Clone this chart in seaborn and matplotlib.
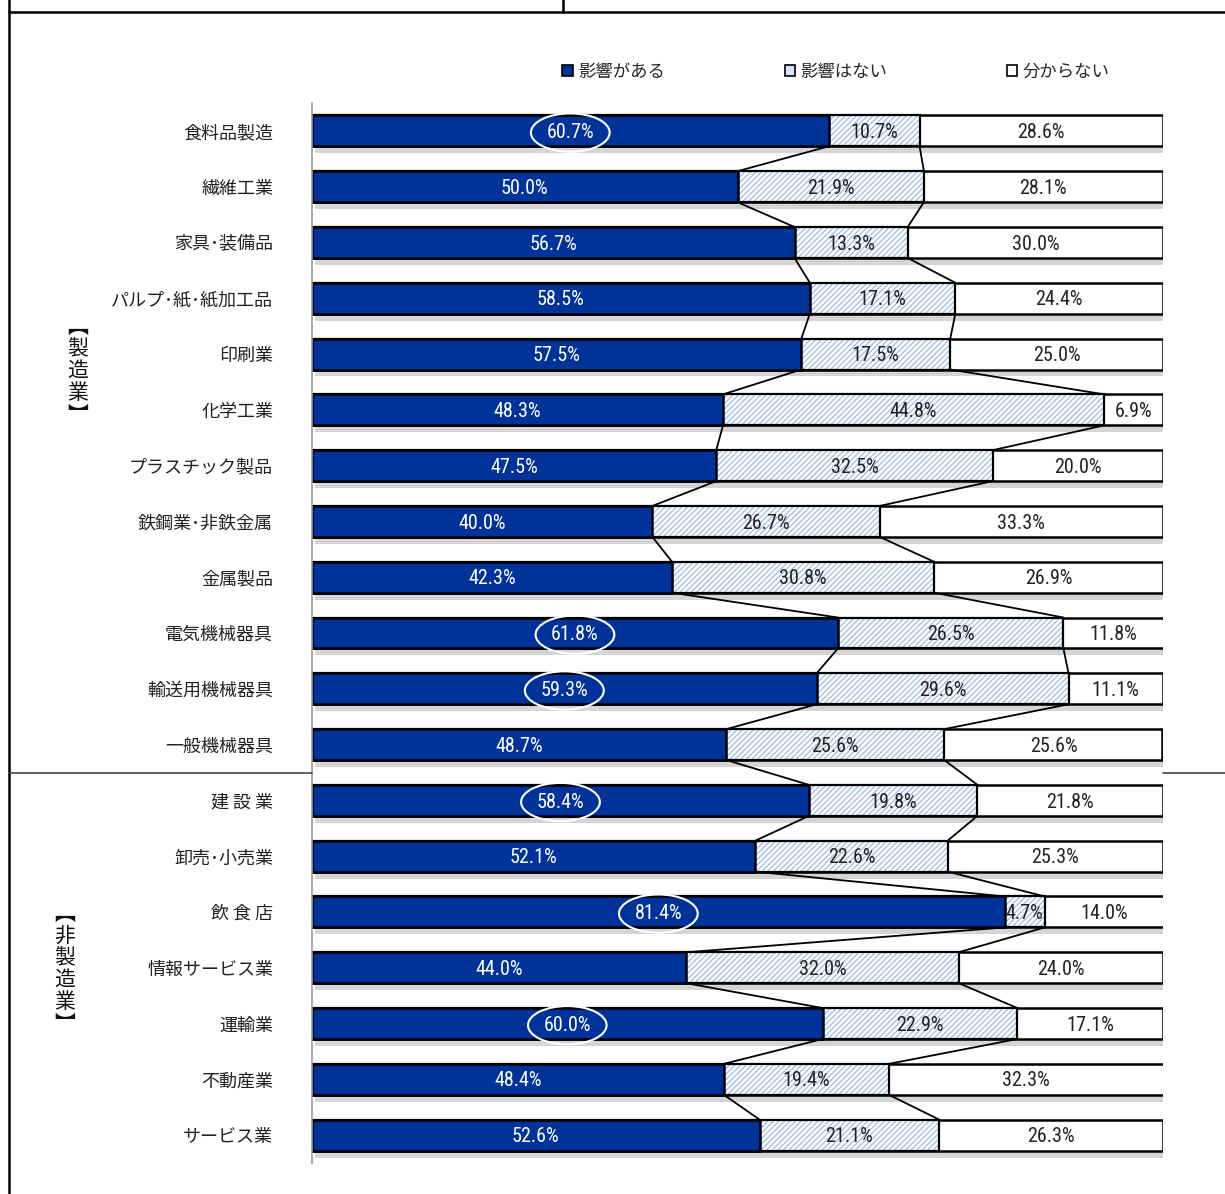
import seaborn as sns
import pandas as pd
import matplotlib.pyplot as plt
import matplotlib.patheffects as pe
from matplotlib.patches import Patch
from matplotlib.lines import Line2D

# data
categories = ["食料品製造", "繊維工業", "家具･装備品", "パルプ･紙･紙加工品", "印刷業",
              "化学工業", "プラスチック製品", "鉄鋼業･非鉄金属", "金属製品", "電気機械器具",
              "輸送用機械器具", "一般機械器具", "建 設 業", "卸売･小売業", "飲 食 店",
              "情報サービス業", "運輸業", "不動産業", "サービス業"]
affected = [60.7, 50.0, 56.7, 58.5, 57.5, 48.3, 47.5, 40.0, 42.3, 61.8,
            59.3, 48.7, 58.4, 52.1, 81.4, 44.0, 60.0, 48.4, 52.6]
not_affected = [10.7, 21.9, 13.3, 17.1, 17.5, 44.8, 32.5, 26.7, 30.8, 26.5,
                29.6, 25.6, 19.8, 22.6, 4.7, 32.0, 22.9, 19.4, 21.1]
unknown = [28.6, 28.1, 30.0, 24.4, 25.0, 6.9, 20.0, 33.3, 26.9, 11.8,
           11.1, 25.6, 21.8, 25.3, 14.0, 24.0, 17.1, 32.3, 26.3]
circled = [True, False, False, False, False, False, False, False, False, True,
           True, False, True, False, True, False, True, False, False]
series_names = ["影響がある", "影響はない", "分からない"]

BLUE = "#003399"
HATCH = "#8fb4e8"

df = pd.DataFrame({"cat": categories, "a": affected, "b": not_affected, "c": unknown})
df["c1"] = df["a"]
df["c2"] = df["a"] + df["b"]
df["c3"] = df["a"] + df["b"] + df["c"]

sns.set_theme(style="white")
plt.rcParams["font.family"] = ["Noto Sans CJK JP", "DejaVu Sans"]
plt.rcParams["hatch.linewidth"] = 0.8

fig = plt.figure(figsize=(12.25, 11.94), dpi=100)
ax = fig.add_axes([312 / 1225, 1 - 1163 / 1194, (1163 - 312) / 1225, (1163 - 103) / 1194])

bw = 0.555


def layer(col):
    n0 = len(ax.patches)
    sns.barplot(data=df, x=col, y="cat", orient="h", width=bw, ax=ax,
                errorbar=None, saturation=1, color="white")
    return ax.patches[n0:]


# full bar (white) with shadow
for p in layer("c3"):
    p.set_facecolor("white")
    p.set_edgecolor("black")
    p.set_linewidth(1.8)
    p.set_path_effects([pe.SimplePatchShadow(offset=(2, -5), shadow_rgbFace="#888888", alpha=0.35),
                        pe.Normal()])
# hatch
for p in layer("c2"):
    p.set_facecolor("white")
    p.set_edgecolor(HATCH)
    p.set_hatch("//////")
    p.set_linewidth(0)
for p in layer("c2"):
    p.set_facecolor("none")
    p.set_edgecolor("black")
    p.set_linewidth(1.6)
for p in layer("c1"):
    p.set_facecolor(BLUE)
    p.set_edgecolor("black")
    p.set_linewidth(1.8)

# series lines
h = bw / 2
for col in ["c1", "c2"]:
    v = df[col].values
    for i in range(len(v) - 1):
        ax.plot([v[i], v[i + 1]], [i + h, i + 1 - h], color="black", lw=1.3, zorder=1)

# value labels
lab_font = dict(family=["Roboto Condensed", "Liberation Sans Narrow", "Noto Sans CJK JP"],
                fontsize=14.5, ha="center", va="center")
for i, r in df.iterrows():
    kw = {}
    if circled[i]:
        kw["bbox"] = dict(boxstyle="ellipse,pad=0.2", fc="none", ec="white", lw=1.5)
    ax.text(r["a"] / 2, i + 0.03, f"{r['a']:.1f}%", color="white", **lab_font, **kw)
    ax.text(r["a"] + r["b"] / 2, i + 0.03, f"{r['b']:.1f}%", color="#222222", **lab_font)
    ax.text(r["c2"] + (100 - r["c2"]) / 2, i + 0.03, f"{r['c']:.1f}%", color="#222222", **lab_font)

ax.set_xlim(0, 100)
ax.set_ylim(18.5, -0.5)
ax.set_xlabel("")
ax.set_ylabel("")
ax.set_xticks([])
ax.tick_params(axis="y", length=0, pad=28, labelsize=13, labelcolor="#222222")
for s in ["top", "right", "bottom"]:
    ax.spines[s].set_visible(False)
ax.spines["left"].set_color("#999999")
ax.spines["left"].set_linewidth(1.2)
ax.patch.set_alpha(0)

# legend
handles = [Patch(facecolor=BLUE, edgecolor="black", lw=1.2),
           Patch(facecolor="#d6e4f7", edgecolor="black", lw=1.2),
           Patch(facecolor="white", edgecolor="black", lw=1.2)]
fig.legend(handles, series_names, loc="center", bbox_to_anchor=(836 / 1225, 1 - 72 / 1194),
           ncol=3, frameon=False, fontsize=12.5, handlelength=0.6, handleheight=0.6,
           handletextpad=0.3, columnspacing=6.9)

# group labels
fig.text(78 / 1225, 1 - 371 / 1194, "︻\n製\n造\n業\n︼", ha="center", va="center",
         fontsize=15, linespacing=1.0, color="#111111")
fig.text(65 / 1225, 1 - 969 / 1194, "︻\n非\n製\n造\n業\n︼", ha="center", va="center",
         fontsize=15, linespacing=1.0, color="#111111")

# frame lines
def fline(x0, y0, x1, y1, **kw):
    fig.add_artist(Line2D([x0 / 1225, x1 / 1225], [1 - y0 / 1194, 1 - y1 / 1194], **kw))

fline(9, 0, 9, 1194, color="black", lw=1.8)
fline(9, 12, 1225, 12, color="black", lw=1.8)
fline(563, 0, 563, 12, color="black", lw=1.8)
fline(9, 773, 312, 773, color="#444444", lw=1.2)
fline(1163, 773, 1225, 773, color="#444444", lw=1.2)

fig.savefig("out.png", dpi=100)
